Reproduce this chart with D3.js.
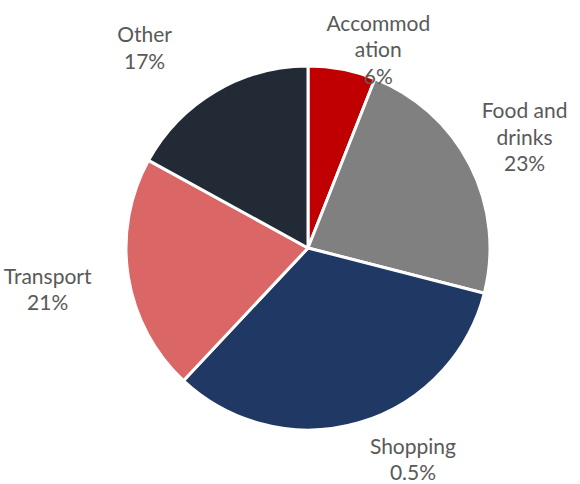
<!DOCTYPE html>
<html>
<head>
<meta charset="utf-8">
<script src="https://cdn.jsdelivr.net/npm/d3@7"></script>
<style>
  html, body { margin: 0; padding: 0; background: #fff; }
  svg text { font-family: "Gill Sans", "Gill Sans MT", Lato, "Open Sans", sans-serif; }
</style>
</head>
<body>
<svg id="pie-svg" width="580" height="484"></svg>
<script>
// Inputs
const categories = ["Accommod\nation", "Food and\ndrinks", "Shopping", "Transport", "Other"];
const shares = [6, 23, 33, 21, 17];
const shareLabels = ["6%", "23%", "0.5%", "21%", "17%"];
const sliceColors = ["#c00000", "#808080", "#203864", "#da6666", "#222a35"];

const width = 580;
const height = 484;
const cx = 308;
const cy = 248;
const radius = 182;
const lineHeight = 26.5;
// label offsets from the outer centroid, Excel "best fit" style
const labelNudge = [[30, 13], [25, -13], [45, 5], [-48, 8], [-54, -15]];

const rows = categories.map((c, i) => ({
  name: c,
  value: shares[i],
  label: shareLabels[i],
  color: sliceColors[i],
  nudge: labelNudge[i],
}));

const svg = d3.select("#pie-svg");
const g = svg.append("g").attr("transform", `translate(${cx},${cy})`);

const pie = d3.pie().value((d) => d.value).sort(null);
const arc = d3.arc().innerRadius(0).outerRadius(radius);
const labelArc = d3.arc().innerRadius(215).outerRadius(215);

const arcs = pie(rows);

// Draw slices
g.selectAll("path.slice")
  .data(arcs)
  .enter()
  .append("path")
  .classed("slice", true)
  .attr("d", arc)
  .attr("fill", (d) => d.data.color)
  .attr("stroke", "#fff")
  .attr("stroke-width", 3)
  .attr("stroke-linejoin", "round");

// Draw labels
const labels = g.selectAll("text.slice-label")
  .data(arcs)
  .enter()
  .append("text")
  .classed("slice-label", true)
  .attr("text-anchor", "middle")
  .attr("font-size", 21)
  .attr("fill", "#595959");

labels.each(function (d) {
  const lines = d.data.name.split("\n").concat([d.data.label]);
  const [x0, y0] = labelArc.centroid(d);
  const x = x0 + d.data.nudge[0];
  const yMid = y0 + d.data.nudge[1];
  const yTop = yMid - ((lines.length - 1) * lineHeight) / 2;
  const t = d3.select(this);
  lines.forEach((ln, i) => {
    t.append("tspan")
      .attr("x", x)
      .attr("y", yTop + i * lineHeight)
      .attr("dy", "0.35em")
      .text(ln);
  });
});
</script>
</body>
</html>
